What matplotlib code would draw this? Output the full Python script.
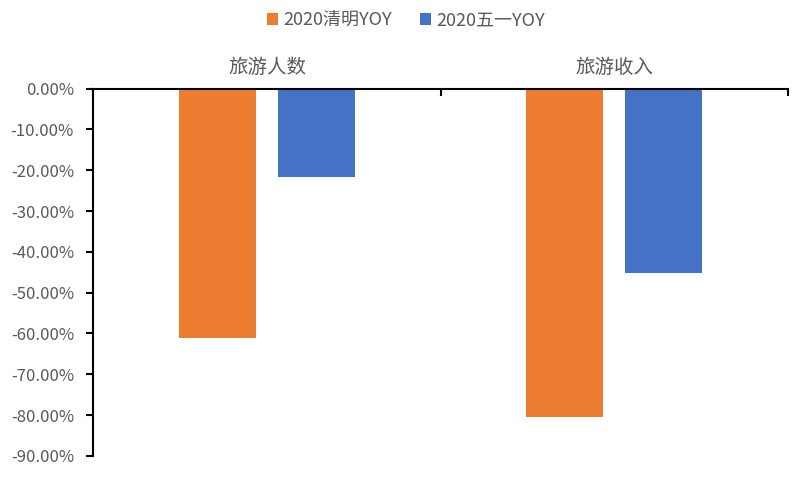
import matplotlib
matplotlib.use("Agg")
import matplotlib.pyplot as plt
from matplotlib.ticker import FuncFormatter, FixedLocator

plt.rcParams['font.family'] = ['Noto Sans CJK SC', 'DejaVu Sans']

# 数据
categories = ["旅游人数", "旅游收入"]
qingming_yoy = [-61.1, -80.5]
wuyi_yoy = [-21.7, -45.3]
series_names = ["2020清明YOY", "2020五一YOY"]
yticks = [0, -10, -20, -30, -40, -50, -60, -70, -80, -90]

orange = "#ED7D31"
blue = "#4472C4"
gray = "#595959"

fig = plt.figure(figsize=(8.12, 4.87), dpi=100)
ax = fig.add_axes([0.115, 0.064, 0.855, 0.754])

x = list(range(len(categories)))
w = 0.223
off = 0.142
b1 = ax.bar([i - off for i in x], qingming_yoy, width=w, color=orange, label=series_names[0])
b2 = ax.bar([i + off for i in x], wuyi_yoy, width=w, color=blue, label=series_names[1])

ax.set_xlim(-0.5, len(categories) - 0.5)
ax.set_ylim(-90, 0)

# 坐标轴
for s in ["right", "bottom"]:
    ax.spines[s].set_visible(False)
ax.spines["left"].set_linewidth(1.5)
ax.spines["top"].set_linewidth(1.5)
ax.spines["left"].set_color("black")
ax.spines["top"].set_color("black")

ax.set_yticks(yticks)
ax.yaxis.set_major_formatter(FuncFormatter(lambda v, p: f"{v:.2f}%"))
ax.tick_params(axis="y", direction="out", length=5, width=1.5, labelsize=12,
               labelcolor=gray, pad=9)

ax.xaxis.tick_top()
ax.xaxis.set_major_locator(FixedLocator([-0.5, 0.5, 1.5]))
ax.xaxis.set_minor_locator(FixedLocator(x))
ax.set_xticklabels([], minor=False)
ax.set_xticklabels(categories, minor=True)
ax.tick_params(axis="x", which="major", direction="in", length=5, width=1.5)
ax.tick_params(axis="x", which="minor", length=0, labelsize=14, labelcolor=gray, pad=8)

leg = fig.legend(handles=[b1, b2], loc="upper center", bbox_to_anchor=(0.5, 1.01),
                 ncol=2, frameon=False, fontsize=13, handlelength=0.6, handleheight=0.6,
                 handletextpad=0.3, columnspacing=1.6)
for t in leg.get_texts():
    t.set_color(gray)

fig.savefig("out.png", dpi=100)
